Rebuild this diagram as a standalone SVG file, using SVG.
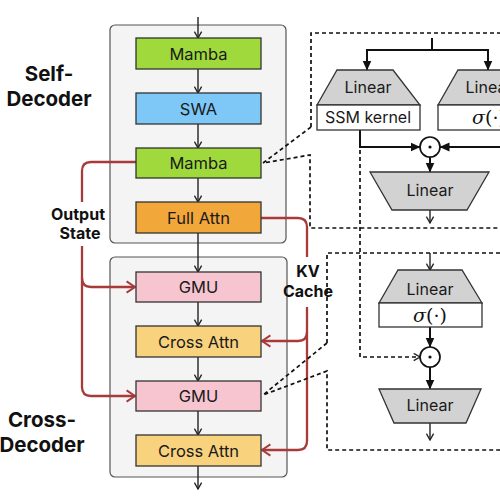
<svg xmlns="http://www.w3.org/2000/svg" width="500" height="499" viewBox="0 0 500 499">
<defs>
<style>
.panel{fill:#F4F4F4;stroke:#555;stroke-width:1.2}
.node{stroke:#333;stroke-width:1.3}
.nt{font-family:Inter,"Liberation Sans",sans-serif;font-size:16.5px;fill:#1a1a1a;text-anchor:middle}
.rt{font-family:Inter,"Liberation Sans",sans-serif;font-size:16px;fill:#1a1a1a;text-anchor:middle}
.bl{font-family:Inter,"Liberation Sans",sans-serif;font-weight:700;fill:#111;text-anchor:middle}
.ln{fill:none;stroke:#222;stroke-width:1.4}
.th{fill:none;stroke:#111;stroke-width:2}
.red{fill:none;stroke:#A83A3A;stroke-width:2.3}
.dash{fill:none;stroke:#111;stroke-width:1.7;stroke-dasharray:4 3}
.trap{fill:#D2D2D2;stroke:#333;stroke-width:1.3}
.wb{fill:#fff;stroke:#333;stroke-width:1.3}
.sig{font-family:"DejaVu Serif","Liberation Serif",serif;font-size:19px;fill:#111;text-anchor:middle}
</style>
<marker id="ao" viewBox="0 0 10 10" refX="9" refY="5" markerWidth="9" markerHeight="9" markerUnits="userSpaceOnUse" orient="auto"><path d="M2,1 L9,5 L2,9" fill="none" stroke="#222" stroke-width="1.5"/></marker>
<marker id="af" viewBox="0 0 10 10" refX="9.5" refY="5" markerWidth="10" markerHeight="10" markerUnits="userSpaceOnUse" orient="auto"><path d="M0,0.5 L10,5 L0,9.5 z" fill="#111"/></marker>
<marker id="ar" viewBox="0 0 10 10" refX="9" refY="5" markerWidth="14" markerHeight="14" markerUnits="userSpaceOnUse" orient="auto"><path d="M3,1 L9,5 L3,9" fill="none" stroke="#A83A3A" stroke-width="1.4"/></marker>
</defs>

<g id="self-decoder-panel">
<rect class="panel" x="110" y="25" width="176" height="218" rx="5"/>
<text class="bl" font-size="20.5" x="49" y="81">Self-</text>
<text class="bl" font-size="20.5" x="49" y="106">Decoder</text>
</g>
<g id="cross-decoder-panel">
<rect class="panel" x="110" y="257" width="177" height="220" rx="5"/>
<text class="bl" font-size="20.5" x="42" y="427">Cross-</text>
<text class="bl" font-size="20.5" x="42" y="452">Decoder</text>
</g>

<g id="connectors">
<path class="ln" marker-end="url(#ao)" d="M198,17 V38"/>
<path class="ln" marker-end="url(#ao)" d="M198,69 V93"/>
<path class="ln" marker-end="url(#ao)" d="M198,124 V148"/>
<path class="ln" marker-end="url(#ao)" d="M198,178 V202"/>
<path class="ln" marker-end="url(#ao)" d="M198,233 V272"/>
<path class="ln" marker-end="url(#ao)" d="M198,302 V326"/>
<path class="ln" marker-end="url(#ao)" d="M198,357 V381"/>
<path class="ln" marker-end="url(#ao)" d="M198,411 V435"/>
<path class="ln" marker-end="url(#ao)" d="M198,466 V489"/>

<path class="red" d="M136,162 H91 Q82,162 82,171 V202"/>
<path class="red" marker-end="url(#ar)" d="M82,246 V387 Q82,396 91,396 H135"/>
<path class="red" marker-end="url(#ar)" d="M82,278 Q82,287 91,287 H135"/>
<path class="red" d="M261,218 H298 Q307,218 307,227 V257"/>
<path class="red" marker-end="url(#ar)" d="M307,307 V441 Q307,450 298,450 H262"/>
<path class="red" marker-end="url(#ar)" d="M307,332 Q307,341 298,341 H262"/>

<path class="dash" d="M311,127 V33 H510"/>
<path class="dash" d="M311,127 L263,163 L310,155 V228 H510"/>
<path class="dash" d="M327,343 V253 H510"/>
<path class="dash" d="M327,343 L263,395 L327,371 V450 H510"/>

<path class="th" marker-end="url(#af)" d="M432,38 V50 H367 V70"/>
<path class="th" marker-end="url(#af)" d="M432,50 H488 V70"/>
<path class="th" marker-end="url(#af)" d="M360,130 V147 H420"/>
<path class="th" marker-end="url(#af)" d="M510,147 H440"/>
<path class="th" marker-end="url(#af)" d="M430,157 V172"/>
<path class="ln" marker-end="url(#ao)" d="M430,210 V223"/>
<path class="dash" marker-end="url(#ao)" d="M360,150 V357 H420"/>
<path class="ln" marker-end="url(#ao)" d="M430,253 V270"/>
<path class="th" marker-end="url(#af)" d="M430,327 V347"/>
<path class="th" marker-end="url(#af)" d="M430,367 V389"/>
<path class="ln" marker-end="url(#ao)" d="M430,423 V440"/>
</g>

<g id="label-output-state">
<text class="bl" font-size="16" x="78" y="220">Output</text>
<text class="bl" font-size="16" x="80" y="239">State</text>
</g>
<g id="label-kv-cache">
<text class="bl" font-size="16" x="308" y="277">KV</text>
<text class="bl" font-size="16" x="308" y="297">Cache</text>
</g>

<g id="mamba1"><rect class="node" x="136" y="38" width="125" height="31" fill="#9FD93C"/><text class="nt" x="198.5" y="59.5">Mamba</text></g>
<g id="swa"><rect class="node" x="136" y="93" width="125" height="31" fill="#7EC8F7"/><text class="nt" x="198.5" y="114.5">SWA</text></g>
<g id="mamba2"><rect class="node" x="136" y="148" width="125" height="30" fill="#9FD93C"/><text class="nt" x="198.5" y="169">Mamba</text></g>
<g id="full-attn"><rect class="node" x="136" y="202" width="125" height="31" fill="#F2A73B"/><text class="nt" x="198.5" y="223.5">Full Attn</text></g>
<g id="gmu1"><rect class="node" x="136" y="272" width="125" height="30" fill="#F7C5D0"/><text class="nt" x="198.5" y="293">GMU</text></g>
<g id="cross-attn1"><rect class="node" x="136" y="326" width="125" height="31" fill="#F9D27E"/><text class="nt" x="198.5" y="347.5">Cross Attn</text></g>
<g id="gmu2"><rect class="node" x="136" y="381" width="125" height="30" fill="#F7C5D0"/><text class="nt" x="198.5" y="402">GMU</text></g>
<g id="cross-attn2"><rect class="node" x="136" y="435" width="125" height="31" fill="#F9D27E"/><text class="nt" x="198.5" y="456.5">Cross Attn</text></g>

<g id="mamba-linear-ssm">
<path class="trap" d="M337,70 H393 L420,105 H317 Z"/>
<text class="rt" x="368" y="93">Linear</text>
<rect class="wb" x="317" y="105" width="103" height="25"/>
<text class="rt" x="368" y="123">SSM kernel</text>
</g>
<g id="mamba-linear-gate">
<path class="trap" d="M458,70 H514 L541,105 H438 Z"/>
<text class="rt" x="489" y="93">Linear</text>
<rect class="wb" x="438" y="105" width="103" height="25"/>
<text class="sig" x="489" y="124"><tspan font-style="italic">σ</tspan>(·)</text>
</g>
<g id="mamba-mult">
<circle cx="430" cy="147" r="10" fill="#fff" stroke="#111" stroke-width="1.7"/>
<circle cx="430" cy="147" r="1.6" fill="#111"/>
</g>
<g id="mamba-linear-out">
<path class="trap" d="M370,172 H489 L467,210 H392 Z"/>
<text class="rt" x="430" y="196">Linear</text>
</g>

<g id="gmu-linear-gate">
<path class="trap" d="M398,270 H462 L482,303 H379 Z"/>
<text class="rt" x="430" y="295">Linear</text>
<rect class="wb" x="379" y="303" width="103" height="24"/>
<text class="sig" x="430" y="322"><tspan font-style="italic">σ</tspan>(·)</text>
</g>
<g id="gmu-mult">
<circle cx="430" cy="357" r="10" fill="#fff" stroke="#111" stroke-width="1.7"/>
<circle cx="430" cy="357" r="1.6" fill="#111"/>
</g>
<g id="gmu-linear-out">
<path class="trap" d="M379,389 H481 L466,423 H394 Z"/>
<text class="rt" x="430" y="411">Linear</text>
</g>
</svg>
